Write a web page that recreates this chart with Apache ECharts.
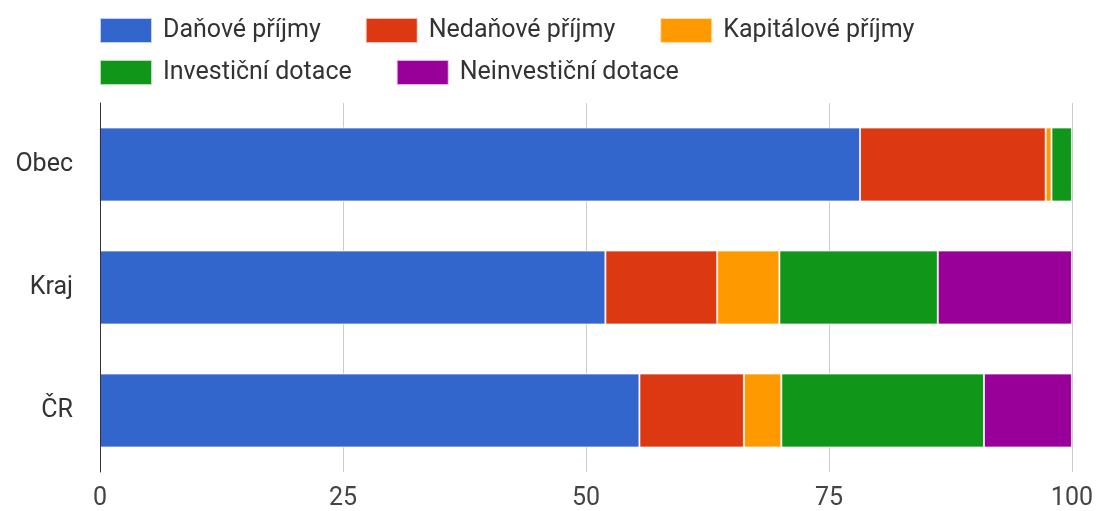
<!DOCTYPE html>
<html>
<head>
<meta charset="utf-8">
<script src="https://cdn.jsdelivr.net/npm/echarts@6/dist/echarts.min.js"></script>
<style>
html,body{margin:0;padding:0;background:#fff;}
#chart{width:1096px;height:511px;}
</style>
</head>
<body>
<div id="chart"></div>
<script>
var categories = ['Obec', 'Kraj', 'ČR'];
var seriesNames = ['Daňové příjmy', 'Nedaňové příjmy', 'Kapitálové příjmy', 'Investiční dotace', 'Neinvestiční dotace'];
var danove = [78.2, 52.0, 55.5];
var nedanove = [19.1, 11.5, 10.75];
var kapitalove = [0.6, 6.4, 3.85];
var investicni = [2.1, 16.3, 20.85];
var neinvesticni = [-0.15, 13.8, 9.05];
var xTicks = [0, 25, 50, 75, 100];
var colors = ['#3366cc', '#dc3912', '#ff9900', '#109618', '#990099'];

var values = [danove, nedanove, kapitalove, investicni, neinvesticni];
var font = 'Roboto';
var textColor = '#333';

var chart = echarts.init(document.getElementById('chart'));
var legendCommon = {
  left: 99,
  itemWidth: 52,
  itemHeight: 25,
  itemGap: 44,
  icon: 'rect',
  textStyle: {fontFamily: font, fontSize: 25, color: textColor, padding: [0, 0, 0, 6]},
  padding: 0
};
chart.setOption({
  animation: false,
  color: colors,
  legend: [
    Object.assign({top: 17, data: seriesNames.slice(0, 3)}, legendCommon),
    Object.assign({top: 59, data: seriesNames.slice(3)}, legendCommon)
  ],
  grid: {left: 100, right: 23, top: 103, bottom: 38, containLabel: false},
  xAxis: {
    type: 'value',
    min: xTicks[0],
    max: xTicks[xTicks.length - 1],
    interval: 25,
    axisLine: {show: false},
    axisTick: {show: false},
    splitLine: {lineStyle: {color: '#cccccc', width: 1}},
    axisLabel: {fontFamily: font, fontSize: 25, color: '#444', margin: 14}
  },
  yAxis: {
    type: 'category',
    data: categories,
    inverse: true,
    z: 5,
    axisLine: {show: true, lineStyle: {color: '#333', width: 1}},
    axisTick: {show: false},
    axisLabel: {fontFamily: font, fontSize: 25, color: textColor, margin: 27, padding: [4, 0, 0, 0]}
  },
  series: seriesNames.map(function (name, i) {
    return {
      name: name,
      type: 'bar',
      stack: 'total',
      barWidth: 74,
      clip: false,
      data: values[i],
      itemStyle: {borderColor: 'rgba(255,255,255,0.7)', borderWidth: 1}
    };
  })
});
</script>
</body>
</html>
